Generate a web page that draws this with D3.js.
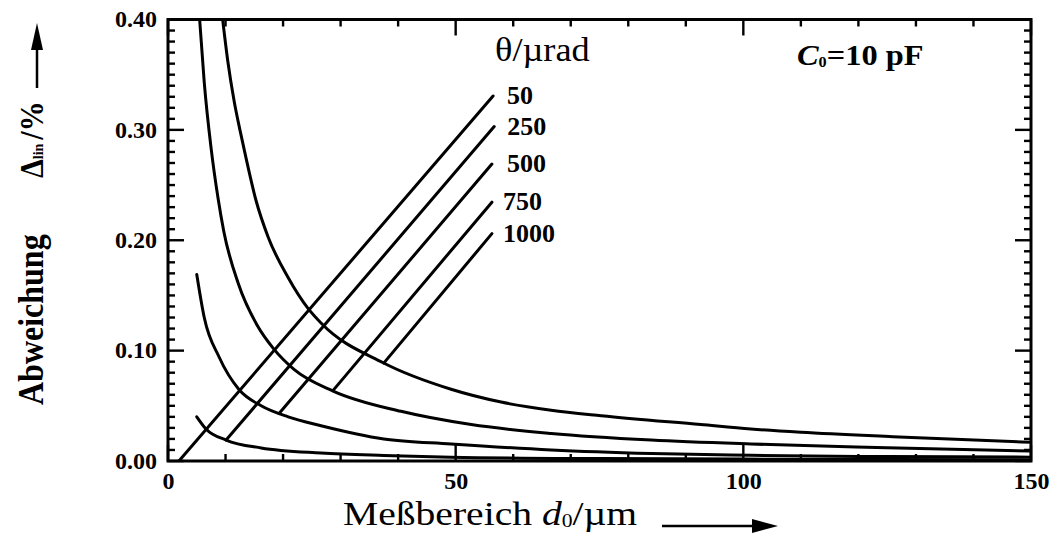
<!DOCTYPE html>
<html>
<head>
<meta charset="utf-8">
<script src="https://cdn.jsdelivr.net/npm/d3@7"></script>
<style>
  html, body { margin: 0; padding: 0; background: #fff; }
  svg { display: block; }
  text { font-family: "Liberation Serif", "Times New Roman", serif; fill: #000; }
</style>
</head>
<body>
<svg id="chart" width="1053" height="549"></svg>
<script>
// Measuring range d0 (µm) and linearity deviation (%) along each curve
const rangeA = [5.0, 6.6, 10.1, 16.2, 26.6, 37.5, 49.2, 75, 100, 150];
const devA   = [0.040, 0.029, 0.019, 0.0118, 0.0072, 0.005, 0.0035, 0.0022, 0.0017, 0.001];

const rangeB = [5.0, 6.3, 8.9, 12.3, 16.2, 20.9, 26.6, 37.5, 49.2, 66.6, 84, 101.3, 125, 150];
const devB   = [0.169, 0.13, 0.094, 0.065, 0.050, 0.040, 0.032, 0.020, 0.0155, 0.010, 0.0068, 0.0052, 0.004, 0.0035];

const rangeC = [5.5, 6.3, 7.5, 8.7, 9.7, 12.2, 15.6, 18.3, 21.9, 28.7, 40.5, 52.7, 66.6, 84, 101.3, 125, 150];
const devC   = [0.40, 0.343, 0.283, 0.238, 0.208, 0.161, 0.122, 0.102, 0.083, 0.0634, 0.045, 0.0330, 0.025, 0.019, 0.0154, 0.012, 0.009];

const rangeD = [9.5, 10.4, 11.5, 12.5, 13.5, 15.3, 17.4, 20.9, 24.3, 26.6, 37.4, 49.2, 57.9, 66.6, 75.3, 92.6, 101.3, 110, 126, 150];
const devD   = [0.40, 0.362, 0.326, 0.300, 0.276, 0.236, 0.203, 0.166, 0.1385, 0.125, 0.089, 0.065, 0.0534, 0.046, 0.0410, 0.033, 0.029, 0.026, 0.022, 0.017];

// Tilt angle lines (θ in µrad): start and end points
const thetaLabels = ["50", "250", "500", "750", "1000"];
const thetaStartD = [1.9, 10.1, 19.3, 28.7, 37.5];
const thetaStartV = [0, 0.019, 0.043, 0.064, 0.0887];
const thetaEndD   = [56.5, 56.7, 56.3, 56.3, 56.3];
const thetaEndV   = [0.3307, 0.303, 0.269, 0.2345, 0.206];

// Axis ticks
const xTickLabels = [0, 50, 100, 150];
const yTickLabels = ["0.00", "0.10", "0.20", "0.30", "0.40"];

const svg = d3.select("#chart");
const mLeft = 168, mRight = 1031, mTop = 19.5, mBottom = 461;

const x = d3.scaleLinear().domain([0, 150]).range([mLeft, mRight]);
const y = d3.scaleLinear().domain([0, 0.40]).range([mBottom, mTop]);

const serif = '"Liberation Serif", "Times New Roman", serif';

// clip region for curves
svg.append("defs").append("clipPath").attr("id", "plotClip")
  .append("rect").attr("x", mLeft).attr("y", mTop).attr("width", mRight - mLeft).attr("height", mBottom - mTop);

// ---- tick marks on all four sides (inward) ----
const xMinor = d3.range(0, 151, 10);
const yMinor = d3.range(0, 41, 1).map(v => v / 100);

const gTicks = svg.append("g").attr("stroke", "#000").attr("stroke-width", 2.4);

xMinor.forEach(v => {
  const major = v % 50 === 0;
  const len = major ? 16 : 7;
  gTicks.append("line").attr("x1", x(v)).attr("x2", x(v)).attr("y1", mBottom).attr("y2", mBottom - len);
  gTicks.append("line").attr("x1", x(v)).attr("x2", x(v)).attr("y1", mTop).attr("y2", mTop + len);
});
yMinor.forEach(v => {
  const major = Math.round(v * 100) % 10 === 0;
  const len = major ? 16 : 7;
  gTicks.append("line").attr("x1", mLeft).attr("x2", mLeft + len).attr("y1", y(v)).attr("y2", y(v));
  gTicks.append("line").attr("x1", mRight).attr("x2", mRight - len).attr("y1", y(v)).attr("y2", y(v));
});

// ---- tick labels via d3 axes ----
const xAxis = d3.axisBottom(x).tickValues(xTickLabels).tickSize(0).tickPadding(11)
  .tickFormat(d3.format("d"));
const gx = svg.append("g").attr("transform", `translate(0,${mBottom})`).call(xAxis);
gx.select(".domain").remove();
gx.selectAll("text").attr("font-family", serif).attr("font-size", 24).attr("font-weight", "bold").attr("fill", "#000");

const yAxis = d3.axisLeft(y).tickValues(yTickLabels.map(Number)).tickSize(0).tickPadding(11)
  .tickFormat(d3.format(".2f"));
const gy = svg.append("g").attr("transform", `translate(${mLeft},0)`).call(yAxis);
gy.select(".domain").remove();
gy.selectAll("text").attr("font-family", serif).attr("font-size", 24).attr("font-weight", "bold").attr("fill", "#000").attr("dy", "0.3em");

// ---- frame ----
svg.append("rect").attr("x", mLeft).attr("y", mTop).attr("width", mRight - mLeft).attr("height", mBottom - mTop)
  .attr("fill", "none").attr("stroke", "#000").attr("stroke-width", 3);

// ---- curves ----
const line = d3.line().x(d => x(d[0])).y(d => y(d[1])).curve(d3.curveMonotoneX);
const curves = [
  d3.zip(rangeA, devA), d3.zip(rangeB, devB), d3.zip(rangeC, devC), d3.zip(rangeD, devD)
];
const gc = svg.append("g").attr("clip-path", "url(#plotClip)");
gc.selectAll("path.curve").data(curves).join("path").attr("class", "curve")
  .attr("d", line).attr("fill", "none").attr("stroke", "#000").attr("stroke-width", 3)
  .attr("stroke-linejoin", "round").attr("stroke-linecap", "round");

// ---- θ lines ----
const thetaLines = thetaLabels.map((t, i) => [[thetaStartD[i], thetaStartV[i]], [thetaEndD[i], thetaEndV[i]]]);
gc.selectAll("path.theta").data(thetaLines).join("path").attr("class", "theta")
  .attr("d", d3.line().x(d => x(d[0])).y(d => y(d[1])))
  .attr("fill", "none").attr("stroke", "#000").attr("stroke-width", 3).attr("stroke-linecap", "round");

// labels next to the upper end of each θ line
const labelDx = [14, 13, 15, 11, 11];
svg.selectAll("text.thetaLabel").data(thetaLabels).join("text").attr("class", "thetaLabel")
  .attr("x", (d, i) => x(thetaEndD[i]) + labelDx[i])
  .attr("y", (d, i) => y(thetaEndV[i]) + 8)
  .attr("font-size", 26).attr("font-weight", "bold").text(d => d);

// text placed at (tx, ty) with a slight horizontal widening
function wideText(tx, ty, sx, size) {
  return svg.append("text").attr("transform", `translate(${tx},${ty}) scale(${sx},1)`)
    .attr("font-size", size);
}

// ---- annotations ----
wideText(495, 61, 1.1, 33).text("θ/µrad");

const c0 = wideText(797, 65, 1.08, 30).attr("font-weight", "bold");
c0.append("tspan").attr("font-style", "italic").text("C");
c0.append("tspan").attr("font-size", 15).attr("dy", 2).text("0");
c0.append("tspan").attr("dy", -2).text("=10 pF");

// ---- x axis title and arrow ----
const xt = wideText(343, 525, 1.2, 33);
xt.append("tspan").text("Meßbereich ");
xt.append("tspan").attr("font-style", "italic").text("d");
xt.append("tspan").attr("font-size", 18).attr("dy", 2).text("0");
xt.append("tspan").attr("dy", -2).text("/µm");

svg.append("line").attr("x1", 662).attr("x2", 756).attr("y1", 526).attr("y2", 526)
  .attr("stroke", "#000").attr("stroke-width", 2.5);
svg.append("path").attr("d", "M778,526 L752,519 L752,533 Z").attr("fill", "#000");

// ---- y axis title and arrow ----
const yt = svg.append("g").attr("transform", "translate(43,405) scale(1.1,1) rotate(-90)");
yt.append("text").attr("x", 0).attr("y", 0).attr("font-size", 32).attr("font-weight", "bold").text("Abweichung");
const dl = yt.append("text").attr("x", 227).attr("y", 0).attr("font-size", 30).attr("font-weight", "bold");
dl.append("tspan").text("Δ");
dl.append("tspan").attr("font-size", 14).text("lin");
dl.append("tspan").attr("dx", 4).text("/%");

svg.append("line").attr("x1", 37).attr("x2", 37).attr("y1", 88).attr("y2", 45)
  .attr("stroke", "#000").attr("stroke-width", 2.5);
svg.append("path").attr("d", "M37,23 L31,50 L43,50 Z").attr("fill", "#000");
</script>
</body>
</html>
